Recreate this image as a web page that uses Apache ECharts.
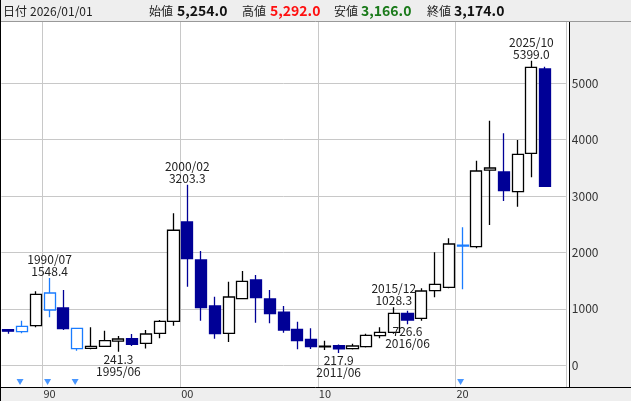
<!DOCTYPE html>
<html><head><meta charset="utf-8">
<script src="https://cdn.jsdelivr.net/npm/echarts@6/dist/echarts.min.js"></script>
<style>html,body{margin:0;padding:0;background:#fff}#c{width:631px;height:401px}</style>
</head><body><div id="c"></div>
<script>
// ---- data (annual candles) ----
const years = ['1987','1988','1989','1990','1991','1992','1993','1994','1995','1996',
  '1997','1998','1999','2000','2001','2002','2003','2004','2005','2006',
  '2007','2008','2009','2010','2011','2012','2013','2014','2015','2016',
  '2017','2018','2019','2020','2021','2022','2023','2024','2025','2026','2027'];
const openV  = [630, 596, 702, 1282, 1016, 656, 300, 337, 430, 472,
  390, 567, 780, 2541, 1867, 1051, 567, 1181, 1512, 1176,
  940, 638, 461, 325, 350, 294, 330, 525, 585, 922,
  833, 1323, 1383, 2130, 2103, 3460, 3427, 3078, 3759, 5254];
const closeV = [605, 691, 1259, 980, 649, 294, 337, 436, 466, 372,
  555, 780, 2394, 1890, 1021, 560, 1211, 1489, 1199, 915,
  626, 436, 330, 340, 290, 342, 532, 585, 922, 803,
  1317, 1436, 2151, 2115, 3445, 3498, 3096, 3741, 5284, 3174];
const highV  = [645, 791, 1312, 1548.4, 1335, 660, 674, 613, 520, 555,
  626, 803, 2695, 3203.3, 2027, 1216, 1482, 1672, 1601, 1335,
  1051, 773, 656, 436, 370, 383, 560, 674, 1028.3, 968,
  1365, 2003, 2252, 2447, 3628, 4337, 4113, 3995, 5399.0, 5292];
const lowV   = [560, 567, 674, 851, 626, 259, 285, 330, 241.3, 342,
  297, 479, 702, 1394, 791, 472, 413, 1170, 755, 745,
  578, 284, 290, 271, 217.9, 280, 315, 479, 560, 726.6,
  791, 1206, 1365, 1348, 2074, 2488, 2913, 2812, 3333, 3166];
const highlightYears = ['1988','1990','1992','2020'];
const highMarkYears = ['1990','2000','2015','2025'];
const highMarkDates = ['1990/07','2000/02','2015/12','2025/10'];
const lowMarkYears  = ['1995','2011','2016'];
const lowMarkDates  = ['1995/06','2011/06','2016/06'];
const headerDate = '2026/01/01';
const Y_MIN = -385, Y_MAX = 6087;
const Y_LABEL_TOP = 5000;

// ---- styles ----
const FONT = "'Noto Sans CJK JP','Noto Sans',sans-serif";
const UP_BORDER = '#000000', DOWN = '#000096', HL = '#1a7cff';
const GRIDC = '#c8c8c8';

const candleData = years.slice(0, openV.length).map((y, i) => {
  const item = { value: [openV[i], closeV[i], lowV[i], highV[i]] };
  if (highlightYears.includes(y)) {
    item.itemStyle = { color: '#ffffff', color0: HL, borderColor: HL, borderColor0: HL };
  }
  return item;
});

const idx = y => years.indexOf(y);
const markData = [];
highMarkYears.forEach((y, k) => {
  const v = highV[idx(y)];
  markData.push({ coord: [y, v], value: v,
    label: { position: 'top', distance: 0, formatter: highMarkDates[k] + '\n' + v.toFixed(1) } });
});
lowMarkYears.forEach((y, k) => {
  const v = lowV[idx(y)];
  markData.push({ coord: [y, v], value: v,
    label: { position: 'bottom', distance: 1, formatter: v.toFixed(1) + '\n' + lowMarkDates[k] } });
});

const last = openV.length - 1;
const fmt = v => v.toLocaleString('en-US', { minimumFractionDigits: 1, maximumFractionDigits: 1 });

const SLOT = 13.767;
const gridLeft = 1.4;

const headerItems = [
  { t: '日付', x: 3, bold: false, c: '#222' },
  { t: headerDate, x: 30, bold: false, c: '#222' },
  { t: '始値', x: 149, bold: false, c: '#222' },
  { t: fmt(openV[last]), x: 177, bold: true, c: '#111' },
  { t: '高値', x: 242, bold: false, c: '#222' },
  { t: fmt(highV[last]), x: 270, bold: true, c: '#ff1010' },
  { t: '安値', x: 334, bold: false, c: '#222' },
  { t: fmt(lowV[last]), x: 361, bold: true, c: '#1a7a1a' },
  { t: '終値', x: 427, bold: false, c: '#222' },
  { t: fmt(closeV[last]), x: 454, bold: true, c: '#111' }
];

const graphic = [
  { type: 'rect', z: -10, silent: true, shape: { x: 0, y: 0, width: 631, height: 22 }, style: { fill: '#eeeeee' } },
  { type: 'rect', z: -10, silent: true, shape: { x: 569, y: 22, width: 62, height: 365 }, style: { fill: '#eeeeee' } },
  { type: 'rect', z: -10, silent: true, shape: { x: 0, y: 387, width: 631, height: 14 }, style: { fill: '#eeeeee' } },
  { type: 'line', z: 100, silent: true, shape: { x1: 0, y1: 21.5, x2: 631, y2: 21.5 }, style: { stroke: '#999', lineWidth: 1 } },
  { type: 'line', z: 100, silent: true, shape: { x1: 0.5, y1: 0, x2: 0.5, y2: 401 }, style: { stroke: '#000', lineWidth: 1 } },
  { type: 'line', z: 100, silent: true, shape: { x1: 569.5, y1: 22, x2: 569.5, y2: 387 }, style: { stroke: '#000', lineWidth: 1 } },
  { type: 'line', z: 100, silent: true, shape: { x1: 0, y1: 387.5, x2: 631, y2: 387.5 }, style: { stroke: '#000', lineWidth: 1 } }
].concat(headerItems.map(h => ({
  type: 'text', z: 100, silent: true, x: h.x, y: 11,
  style: { text: h.t, fill: h.c, font: (h.bold ? 'bold 14px ' : '12px ') + FONT, textVerticalAlign: 'middle', verticalAlign: 'middle' }
})));

// split line colours: 0..5000 drawn, 6000 hidden (min/max extent lines are skipped)
const splitColors = [GRIDC, GRIDC, GRIDC, GRIDC, GRIDC, GRIDC, 'rgba(0,0,0,0)'];

const chart = echarts.init(document.getElementById('c'), null, { renderer: 'canvas' });
chart.setOption({
  animation: false,
  backgroundColor: '#ffffff',
  graphic: graphic,
  grid: { left: gridLeft, top: 22, width: SLOT * years.length, height: 365, containLabel: false },
  xAxis: {
    type: 'category', data: years, boundaryGap: true,
    axisLine: { show: false }, axisTick: { show: false },
    axisLabel: { interval: (i, v) => Number(v) % 10 === 0, formatter: v => v.slice(2),
      color: '#333', fontSize: 11, fontFamily: FONT, margin: 1 },
    splitLine: { show: true, interval: (i, v) => Number(v) % 10 === 0, lineStyle: { color: GRIDC, width: 1 } }
  },
  yAxis: {
    type: 'value', position: 'right', min: Y_MIN, max: Y_MAX, splitNumber: 6, scale: false,
    axisLine: { show: false }, axisTick: { show: false },
    axisLabel: { color: '#333', fontSize: 12, fontFamily: FONT, margin: 6, showMinLabel: false, showMaxLabel: false,
      formatter: v => (v % 1000 === 0 && v <= Y_LABEL_TOP ? String(v) : '') },
    splitLine: { show: true, showMinLine: false, showMaxLine: false, lineStyle: { color: splitColors, width: 1 } }
  },
  series: [
    {
      type: 'candlestick', data: candleData, barWidth: 11.6,
      itemStyle: { color: '#ffffff', color0: DOWN, borderColor: UP_BORDER, borderColor0: DOWN, borderWidth: 1.3 },
      emphasis: { disabled: true },
      markPoint: {
        symbol: 'circle', symbolSize: 1, itemStyle: { color: 'rgba(0,0,0,0)' },
        label: { show: true, color: '#222', fontSize: 12, lineHeight: 12, fontFamily: FONT },
        data: markData
      }
    },
    {
      type: 'scatter', data: highlightYears.map(y => [y, Y_MIN]),
      symbol: 'triangle', symbolRotate: 180, symbolSize: [7, 6], symbolOffset: [-2, -5],
      itemStyle: { color: HL }, silent: true, z: 5
    }
  ]
});
</script></body></html>
